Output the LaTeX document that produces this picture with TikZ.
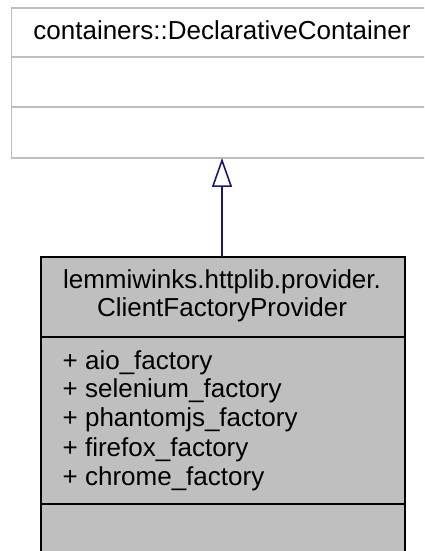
\documentclass[tikz,border=0pt]{standalone}
\usepackage{fontspec}
\setmainfont{Liberation Sans}
\usetikzlibrary{arrows.meta}
\definecolor{boxgray}{HTML}{BFBFBF}
\definecolor{edgenavy}{HTML}{191970}
\tikzset{
  txt/.style={inner sep=0pt, font=\fontsize{26}{29}\selectfont, anchor=base},
  attr/.style={txt, anchor=base west},
  basebox/.style={draw=boxgray, line width=1.4pt, fill=white},
  baseline/.style={draw=boxgray, line width=1.4pt},
  derivbox/.style={draw=black, line width=2pt, fill=boxgray},
  derivline/.style={draw=black, line width=2pt},
  inherit/.style={draw=edgenavy, line width=1.6pt, -{Triangle[open, length=29pt, width=20pt, line width=1.6pt]}}
}
\begin{document}
\begin{tikzpicture}[x=1pt,y=1pt]
\useasboundingbox (0,0) rectangle (424,551);
\clip (0,0) rectangle (424,551);
% base class
\coordinate (btop) at (11.5,543);
\coordinate (bbot) at (430,393);
\draw[basebox] (btop) rectangle (bbot);
\coordinate (bd1l) at (11.5,494); \coordinate (bd1r) at (430,494);
\coordinate (bd2l) at (11.5,444); \coordinate (bd2r) at (430,444);
\draw[baseline] (bd1l) -- (bd1r);
\draw[baseline] (bd2l) -- (bd2r);
\node[txt] (basename) at (222,511) {containers::DeclarativeContainer};
\coordinate (arrowtip) at (222,393);
% derived class
\coordinate (dtop) at (40.5,294);
\coordinate (dbot) at (404.5,-10);
\draw[derivbox] (dtop) rectangle (dbot);
\coordinate (dd1l) at (40.5,214); \coordinate (dd1r) at (404.5,214);
\coordinate (dd2l) at (40.5,47); \coordinate (dd2r) at (404.5,47);
\draw[derivline] (dd1l) -- (dd1r);
\draw[derivline] (dd2l) -- (dd2r);
\node[txt] (dname1) at (222,262) {lemmiwinks.httplib.provider.};
\node[txt] (dname2) at (222,234) {ClientFactoryProvider};
\coordinate (arrowstart) at (222,294);
\node[attr] (a1) at (62.5,181) {+ aio\_factory};
\node[attr] (a2) at (62.5,153) {+ selenium\_factory};
\node[attr] (a3) at (62.5,124) {+ phantomjs\_factory};
\node[attr] (a4) at (62.5,94.5) {+ firefox\_factory};
\node[attr] (a5) at (62.5,65) {+ chrome\_factory};
% inheritance
\draw[inherit] (arrowstart) -- (arrowtip);
\end{tikzpicture}
\end{document}
